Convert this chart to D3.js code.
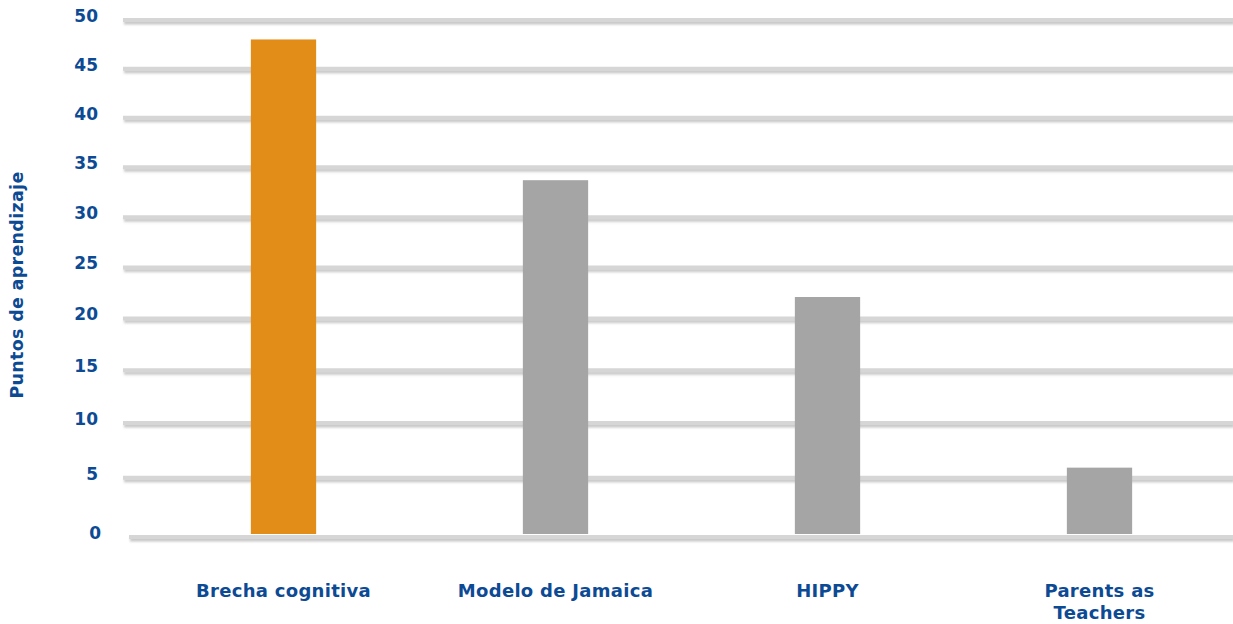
<!DOCTYPE html>
<html>
<head>
<meta charset="utf-8">
<script src="https://cdn.jsdelivr.net/npm/d3@7"></script>
<style>
  html, body { margin: 0; padding: 0; background: #fff; }
  svg { display: block; }
  text { font-family: "DejaVu Sans", sans-serif; font-weight: bold; fill: #0D4A94; }
</style>
</head>
<body>
<svg id="chart" width="1233" height="624"></svg>
<script>
// ---- data ----
const categories = ["Brecha cognitiva", "Modelo de Jamaica", "HIPPY", "Parents as Teachers"];
const categoryLines = [["Brecha cognitiva"], ["Modelo de Jamaica"], ["HIPPY"], ["Parents as", "Teachers"]];
const values = [48, 33.7, 22.1, 5.9];
const highlight = [true, false, false, false];
const yTicks = [0, 5, 10, 15, 20, 25, 30, 35, 40, 45, 50];
const yTitle = "Puntos de aprendizaje";

// ---- layout ----
const W = 1233, H = 624;
const svg = d3.select("#chart");

const defs = svg.append("defs");
const f = defs.append("filter").attr("id", "shadow")
  .attr("filterUnits", "userSpaceOnUse")
  .attr("x", 0).attr("y", 0).attr("width", W).attr("height", H);
f.append("feDropShadow").attr("dx", 1).attr("dy", 2.5).attr("stdDeviation", 1.3)
  .attr("flood-color", "#8f8f8f").attr("flood-opacity", 0.5);

// perspective-like vertical scale
const y = d3.scalePow().exponent(0.94).domain([0, 50]).range([537, 20]);
const x = d3.scaleBand().domain(categories).range([147.5, 1235.5])
  .paddingInner(0.76).paddingOuter(0.38);

// gridlines (excluding zero, drawn later as floor edge)
svg.append("g").attr("filter", "url(#shadow)").selectAll("line")
  .data(yTicks.filter(d => d !== 0))
  .join("line")
  .attr("x1", 123).attr("x2", W)
  .attr("y1", d => y(d)).attr("y2", d => y(d))
  .attr("stroke", "#d6d6d6").attr("stroke-width", 4);

// bars
svg.append("g").selectAll("rect")
  .data(categories.map((c, i) => ({ c, v: values[i], h: highlight[i] })))
  .join("rect")
  .attr("x", d => x(d.c))
  .attr("width", x.bandwidth())
  .attr("y", d => y(d.v))
  .attr("height", d => y(0) - 3 - y(d.v))
  .attr("fill", d => d.h ? "#E28D17" : "#A5A5A5");

// zero line (floor edge)
svg.append("g").attr("filter", "url(#shadow)").append("line")
  .attr("x1", 129).attr("x2", W)
  .attr("y1", y(0)).attr("y2", y(0))
  .attr("stroke", "#d6d6d6").attr("stroke-width", 4);

// y tick labels
svg.append("g").selectAll("text")
  .data(yTicks)
  .join("text")
  .attr("x", d => d === 0 ? 101 : 98)
  .attr("y", d => y(d) - 4)
  .attr("dy", "0.35em")
  .attr("text-anchor", "end")
  .attr("font-size", 17)
  .text(d => d);

// y axis title
svg.append("text")
  .attr("transform", "translate(23,285) rotate(-90)")
  .attr("text-anchor", "middle")
  .attr("font-size", 17.5)
  .attr("letter-spacing", 0.3)
  .text(yTitle);

// x category labels
const xl = svg.append("g").selectAll("text")
  .data(categories.map((c, i) => ({ c, lines: categoryLines[i] })))
  .join("text")
  .attr("x", d => x(d.c) + x.bandwidth() / 2)
  .attr("y", 597)
  .attr("text-anchor", "middle")
  .attr("font-size", 18)
  .attr("letter-spacing", 0.3);
xl.selectAll("tspan")
  .data(d => d.lines.map((t, j) => ({ t, j, cx: x(d.c) + x.bandwidth() / 2 })))
  .join("tspan")
  .attr("x", d => d.cx)
  .attr("dy", d => d.j === 0 ? 0 : 22)
  .text(d => d.t);
</script>
</body>
</html>
